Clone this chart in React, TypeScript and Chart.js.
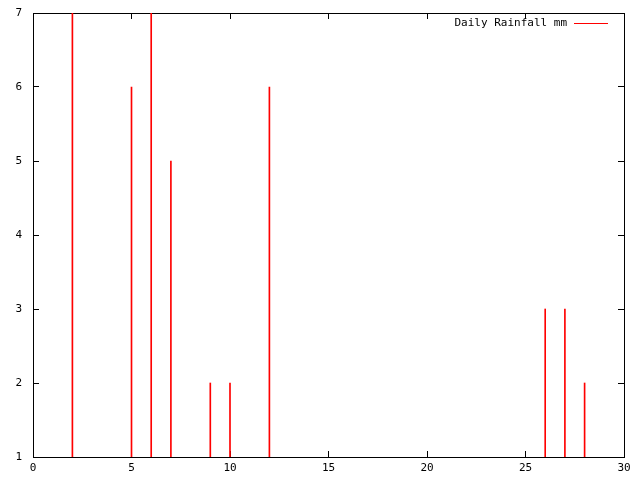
import { useEffect, useRef } from "react";
import { Chart, registerables } from "chart.js";

Chart.register(...registerables);

const days = [2, 5, 6, 7, 9, 10, 12, 26, 27, 28];
const rainfall = [7, 6, 7, 5, 2, 2, 6, 3, 3, 2];
const xTicks = [0, 5, 10, 15, 20, 25, 30];
const yTicks = [1, 2, 3, 4, 5, 6, 7];
const seriesLabel = "Daily Rainfall mm";
const seriesColor = "#ff0000";

const FONT = { family: "'DejaVu Sans Mono', monospace", size: 11 };

// gnuplot-style key: text, then a line sample to its right, in the top-right corner
const keyPlugin = {
  id: "gnuplotKey",
  afterDraw(chart: any) {
    const { ctx, chartArea } = chart;
    const lineRight = Math.round(chartArea.right) - 16;
    const lineLeft = lineRight - 34;
    const y = Math.round(chartArea.top) + 10;
    ctx.save();
    ctx.font = `${FONT.size}px ${FONT.family}`;
    ctx.fillStyle = "#000";
    ctx.textAlign = "right";
    ctx.textBaseline = "middle";
    ctx.fillText(chart.data.datasets[0].label, lineLeft - 7, y);
    ctx.fillStyle = seriesColor;
    ctx.fillRect(lineLeft, y, lineRight - lineLeft, 1);
    ctx.restore();
  },
};

export default function App() {
  const chartRef = useRef<HTMLCanvasElement>(null);
  const chartInstance = useRef<Chart | null>(null);

  useEffect(() => {
    if (!chartRef.current) return;
    const ctx = chartRef.current.getContext("2d");
    if (!ctx) return;

    const inwardGrid = {
      drawOnChartArea: false,
      drawTicks: true,
      tickLength: -6,
      color: "#000",
      offset: false,
    };
    const border = { display: true, color: "#000", width: 1 };
    const fixedTicks = (vals: number[]) => (s: any) => {
      s.ticks = vals.map((v) => ({ value: v }));
    };
    const fitY = (w: number) => (s: any) => {
      s.width = w;
      s.paddingTop = 0;
      s.paddingBottom = 0;
    };
    const fitX = (h: number) => (s: any) => {
      s.height = h;
      s.paddingLeft = 0;
      s.paddingRight = 0;
    };

    chartInstance.current = new Chart(ctx, {
      type: "bar",
      data: {
        datasets: [
          {
            label: seriesLabel,
            data: days.map((d, i) => ({ x: d, y: rainfall[i] })),
            backgroundColor: seriesColor,
            borderColor: seriesColor,
            borderWidth: 0,
            barThickness: 1,
            grouped: false,
          },
        ],
      },
      options: {
        responsive: false,
        animation: false,
        layout: { padding: { top: 13, right: 16, left: 0, bottom: 0 } },
        scales: {
          x: {
            type: "linear",
            position: "bottom",
            min: 0,
            max: 30,
            offset: false,
            afterBuildTicks: fixedTicks(xTicks),
            afterFit: fitX(23),
            ticks: { color: "#000", font: FONT, padding: 11, maxRotation: 0 },
            grid: inwardGrid,
            border,
          },
          x2: {
            type: "linear",
            position: "top",
            min: 0,
            max: 30,
            offset: false,
            afterBuildTicks: fixedTicks(xTicks),
            afterFit: fitX(0),
            ticks: { display: false },
            grid: inwardGrid,
            border,
          },
          y: {
            type: "linear",
            position: "left",
            min: 1,
            max: 7,
            afterBuildTicks: fixedTicks(yTicks),
            afterFit: fitY(33),
            ticks: { color: "#000", font: FONT, padding: 17 },
            grid: inwardGrid,
            border,
          },
          y2: {
            type: "linear",
            position: "right",
            min: 1,
            max: 7,
            afterBuildTicks: fixedTicks(yTicks),
            afterFit: fitY(0),
            ticks: { display: false },
            grid: inwardGrid,
            border,
          },
        },
        plugins: {
          legend: { display: false },
          tooltip: { enabled: false },
        },
      },
      plugins: [keyPlugin],
    });

    return () => {
      if (chartInstance.current) {
        chartInstance.current.destroy();
      }
    };
  }, []);

  return (
    <div style={{ position: "absolute", left: 0, top: 0, width: 640, height: 480, background: "#fff" }}>
      <canvas ref={chartRef} width={640} height={480} />
    </div>
  );
}
